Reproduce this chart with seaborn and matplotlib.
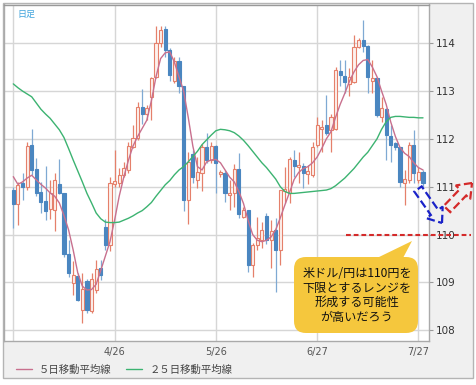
import numpy as np
import pandas as pd
import matplotlib
matplotlib.use('Agg')
import matplotlib.pyplot as plt
import matplotlib.patches as mpatches
import matplotlib.transforms as mtransforms
import seaborn as sns

# daily USD/JPY, 2017-03-27 .. 2017-07-28 (weekdays)
dates = pd.bdate_range('2017-03-27', '2017-07-28')

opens = [110.93, 110.64, 111.08, 111.00, 111.87, 111.38, 110.88, 110.70, 110.53, 110.51,
         111.06, 110.87, 109.59, 108.98, 109.13, 108.43, 109.03, 108.41, 108.84, 109.29,
         110.16, 109.78, 111.05, 111.08, 111.24, 111.35, 111.83, 112.01, 112.67, 112.52,
         112.87, 113.30, 114.00, 114.29, 113.85, 113.20, 113.62, 113.10, 110.72, 111.68,
         111.14, 111.29, 111.84, 111.56, 111.85, 111.27, 111.29, 110.83, 110.86, 111.36,
         110.37, 110.51, 109.36, 109.78, 109.88, 110.39, 109.88, 110.09, 109.68, 110.90,
         110.86, 111.56, 111.42, 111.43, 111.26, 111.24, 111.87, 112.20, 112.29, 112.19,
         112.20, 113.41, 113.31, 113.15, 113.18, 113.93, 114.07, 113.94, 113.20, 113.27,
         112.46, 112.62, 112.06, 111.91, 111.84, 111.08, 111.14, 111.87, 111.14, 111.31]
highs = [111.00, 111.10, 111.28, 111.94, 112.20, 111.60, 111.10, 111.43, 111.14, 111.28,
         111.57, 110.87, 109.89, 109.45, 109.19, 109.19, 109.08, 109.19, 109.47, 109.47,
         110.32, 111.20, 111.77, 111.40, 111.52, 111.94, 112.29, 112.78, 113.04, 112.70,
         113.30, 114.35, 114.36, 114.36, 113.90, 113.72, 113.72, 113.10, 111.73, 111.77,
         111.63, 111.90, 112.12, 111.94, 111.87, 111.35, 111.35, 111.14, 111.47, 111.70,
         110.58, 110.51, 109.82, 110.37, 110.26, 110.44, 110.30, 110.34, 110.93, 111.42,
         111.63, 111.77, 111.73, 111.49, 111.45, 111.94, 112.46, 112.39, 112.92, 112.53,
         113.51, 113.65, 113.65, 113.48, 114.17, 114.10, 114.49, 113.96, 113.65, 113.30,
         112.88, 112.64, 112.29, 111.94, 111.84, 111.35, 111.94, 112.19, 111.42, 111.35]
lows = [110.13, 110.20, 110.72, 110.93, 111.24, 110.80, 110.44, 110.30, 110.32, 110.08,
        110.85, 109.53, 109.12, 108.73, 108.60, 108.14, 108.35, 108.35, 108.77, 109.05,
        109.68, 109.66, 111.00, 111.00, 111.20, 111.28, 111.80, 111.97, 112.32, 112.40,
        112.40, 113.27, 113.93, 113.72, 113.20, 113.16, 112.95, 110.50, 110.23, 111.07,
        110.97, 110.90, 111.49, 111.49, 110.87, 111.20, 110.69, 110.51, 110.58, 110.34,
        110.34, 109.22, 109.12, 109.68, 109.71, 109.81, 109.29, 108.80, 109.36, 110.65,
        110.65, 111.21, 111.07, 110.97, 111.05, 111.21, 111.84, 111.73, 112.08, 111.73,
        112.19, 113.10, 112.95, 112.90, 113.16, 113.90, 113.82, 112.95, 112.95, 112.46,
        112.36, 111.56, 111.52, 111.77, 111.00, 110.62, 111.07, 111.07, 111.07, 111.00]
closes = [110.64, 111.03, 111.00, 111.85, 111.35, 110.86, 110.69, 110.50, 110.86, 111.13,
          110.86, 109.60, 109.19, 109.15, 108.63, 108.87, 108.43, 109.08, 109.27, 109.15,
          109.78, 111.07, 111.12, 111.24, 111.40, 111.85, 112.01, 112.67, 112.53, 112.64,
          113.27, 114.00, 114.28, 113.85, 113.34, 113.62, 113.10, 110.72, 111.52, 111.21,
          111.31, 111.82, 111.56, 111.85, 111.49, 111.30, 110.86, 110.86, 111.36, 110.43,
          110.51, 109.36, 109.78, 109.92, 110.09, 109.88, 110.08, 109.68, 110.93, 110.95,
          111.57, 111.43, 111.45, 111.28, 111.33, 111.84, 112.29, 112.25, 112.12, 112.46,
          113.44, 113.34, 113.18, 113.30, 113.93, 114.07, 113.94, 113.30, 113.27, 112.50,
          112.64, 112.08, 111.87, 111.84, 111.10, 111.17, 111.87, 111.28, 111.31, 111.07]

ma5 = [111.21, 111.05, 111.10, 111.18, 111.24, 111.14, 111.05, 110.97, 110.87, 110.80,
       110.66, 110.40, 110.10, 109.68, 109.20, 108.92, 108.84, 108.85, 108.96, 109.25,
       109.55, 109.85, 110.30, 110.80, 111.20, 111.55, 111.85, 112.05, 112.22, 112.39,
       112.80, 113.30, 113.68, 113.80, 113.82, 113.60, 113.30, 113.00, 112.45, 111.85,
       111.42, 111.35, 111.52, 111.56, 111.57, 111.50, 111.35, 111.20, 111.10, 110.90,
       110.65, 110.30, 110.00, 109.88, 109.85, 109.88, 109.95, 110.10, 110.35, 110.62,
       110.88, 111.15, 111.30, 111.38, 111.42, 111.50, 111.62, 111.80, 112.00, 112.15,
       112.45, 112.72, 112.95, 113.20, 113.40, 113.55, 113.64, 113.66, 113.50, 113.30,
       113.00, 112.72, 112.35, 112.05, 111.82, 111.70, 111.63, 111.50, 111.40, 111.35]
ma25 = [113.15, 113.07, 113.00, 112.94, 112.88, 112.75, 112.62, 112.52, 112.43, 112.31,
        112.19, 112.03, 111.80, 111.56, 111.33, 111.10, 110.86, 110.66, 110.45, 110.33,
        110.26, 110.25, 110.25, 110.26, 110.30, 110.34, 110.39, 110.45, 110.50, 110.58,
        110.67, 110.80, 110.92, 111.04, 111.13, 111.25, 111.35, 111.42, 111.52, 111.63,
        111.74, 111.88, 111.98, 112.08, 112.17, 112.20, 112.19, 112.17, 112.13, 112.06,
        111.97, 111.86, 111.74, 111.62, 111.50, 111.40, 111.28, 111.16, 111.00, 110.90,
        110.86, 110.86, 110.87, 110.88, 110.89, 110.90, 110.91, 110.92, 110.93, 110.96,
        111.02, 111.10, 111.18, 111.28, 111.38, 111.50, 111.62, 111.72, 111.86, 112.00,
        112.20, 112.36, 112.45, 112.47, 112.47, 112.46, 112.45, 112.45, 112.44, 112.44]

tick_dates = ['2017-03-27', '2017-04-26', '2017-05-26', '2017-06-27', '2017-07-27']
tick_labels = ['', '4/26', '5/26', '6/27', '7/27']
y_ticks = [108, 109, 110, 111, 112, 113, 114]
support = 110
legend_labels = ['５日移動平均線', '２５日移動平均線']
note = '米ドル/円は110円を\n下限とするレンジを\n形成する可能性\nが高いだろう'

df = pd.DataFrame({'date': dates, 'open': opens, 'high': highs, 'low': lows,
                   'close': closes, 'ma5': ma5, 'ma25': ma25})
df['i'] = np.arange(len(df))
tick_idx = [int(np.where(dates == pd.Timestamp(d))[0][0]) for d in tick_dates]

sns.set_style('white')
plt.rcParams['font.family'] = ['Noto Sans CJK JP', 'DejaVu Sans']

W, H = 476, 385
fig = plt.figure(figsize=(W / 100, H / 100), dpi=100)
px = mtransforms.Affine2D().scale(1 / W, -1 / H).translate(0, 1) + fig.transFigure

# grey frame behind everything
fig.add_artist(mpatches.Rectangle((3, 3), 470, 375, transform=px, facecolor='#f0f0f0',
                                  edgecolor='#b4b4b4', lw=1, zorder=-1))

ax = fig.add_axes([4 / W, 1 - 340.7 / H, 425 / W, 336.2 / H])
ax.set_facecolor('white')

# candles
up = df['close'] >= df['open']
for mask, face, edge, wick in [(up, '#fdf1ed', '#e5806b', '#e5806b'),
                               (~up, '#4a86c0', '#4a86c0', '#7fa9d3')]:
    d = df[mask]
    ax.vlines(d['i'], d['low'], d['high'], color=wick, lw=0.9, zorder=2)
    ax.bar(d['i'], (d['close'] - d['open']).abs().clip(lower=0.03),
           bottom=d[['open', 'close']].min(axis=1), width=0.68,
           color=face, edgecolor=edge, lw=0.8, zorder=3)

sns.lineplot(data=df, x='i', y='ma5', ax=ax, color='#c8708e', lw=1, label=legend_labels[0], zorder=4)
sns.lineplot(data=df, x='i', y='ma25', ax=ax, color='#3cb371', lw=1, label=legend_labels[1], zorder=4)

ax.set_xlim(-2.02, 90.3)
ax.set_ylim(107.78, 114.81)
ax.set_xlabel('')
ax.set_ylabel('')
ax.yaxis.tick_right()
ax.set_yticks(y_ticks)
ax.set_yticklabels([str(v) for v in y_ticks], fontfamily='DejaVu Sans')
ax.set_xticks(tick_idx)
ax.set_xticklabels(tick_labels, fontfamily='DejaVu Sans')
ax.tick_params(axis='y', length=3, color='#999999', labelsize=7.5, labelcolor='#333333', pad=2)
ax.tick_params(axis='x', length=0, labelsize=7, labelcolor='#555555', pad=4.3)
ax.grid(True, color='#d6d6d6', lw=1)
ax.set_axisbelow(True)
for s in ax.spines.values():
    s.set_color('#aaaaaa')
    s.set_linewidth(1)
ax.spines['top'].set_color('#999999')

handles, labels = ax.get_legend_handles_labels()
leg = ax.legend(handles, labels, loc='center left', bbox_to_anchor=(16 / W, 1 - 370 / H),
                bbox_transform=fig.transFigure, ncol=2, frameon=False, fontsize=7.5,
                handlelength=1.55, handletextpad=0.67, columnspacing=1.4,
                borderpad=0, borderaxespad=0)
for t in leg.get_texts():
    t.set_color('#444444')

fig.text(17, 14, '日足', transform=px, color='#3fa3dc', fontsize=6.5, va='center')

# support line at 110
ax.plot([0.805, 1.099], [support, support], transform=ax.get_yaxis_transform(),
        color='#d42a2a', lw=1.5, ls=(0, (2.3, 1.4)), clip_on=False, zorder=6)

# dashed block arrows
arrow_kw = dict(width=9, head_width=20, head_length=13, length_includes_head=True,
                transform=px, fill=False, lw=1.6, ls='--', zorder=7)
fig.add_artist(mpatches.FancyArrow(418, 189, 24, 34, ec='#1a22c8', **arrow_kw))
fig.add_artist(mpatches.FancyArrow(447, 209, 25, -26, ec='#d42a2a', **arrow_kw))

# speech bubble
bubble = '#f5c73d'
fig.add_artist(mpatches.FancyBboxPatch((294, 257), 124, 76, boxstyle='round,pad=0,rounding_size=12',
                                       transform=px, fc=bubble, ec='none', zorder=7))
fig.add_artist(mpatches.Polygon([(377, 258), (403, 258), (412, 241)], closed=True,
                                transform=px, fc=bubble, ec='none', zorder=7))
fig.text(357, 295.5, note, transform=px, ha='center', va='center', fontsize=8.7,
         linespacing=1.15, color='#111111', zorder=8)

fig.savefig('out.png', dpi=100)
